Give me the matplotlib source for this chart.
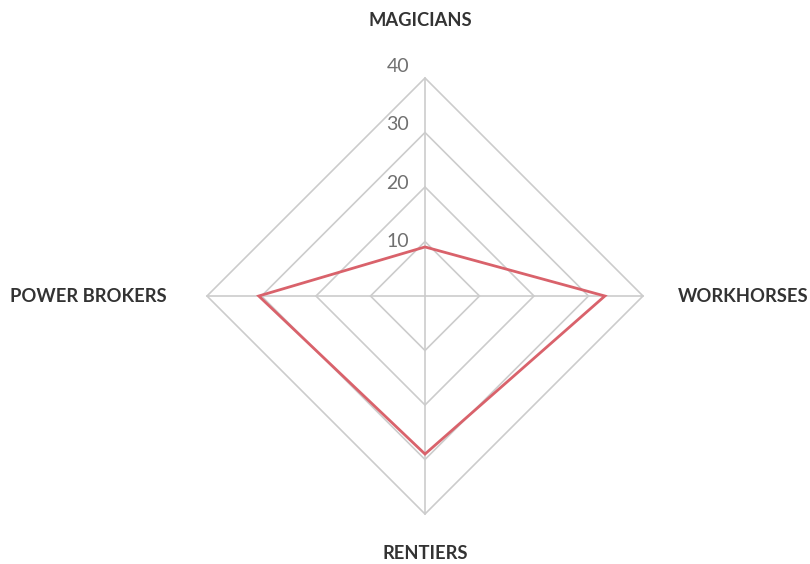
import numpy as np
import matplotlib.pyplot as plt

categories = ["MAGICIANS", "WORKHORSES", "RENTIERS", "POWER BROKERS"]
values = [9, 33, 29, 30.5]
rings = [10, 20, 30, 40]

plt.rcParams['font.family'] = ['Lato', 'DejaVu Sans']

fig = plt.figure(figsize=(8.1, 5.64), dpi=100)
ax = fig.add_axes([0, 0, 1, 1])
scale = 5.45  # px per unit
ax.set_xlim(-425 / scale, 385 / scale)
ax.set_ylim(-(564 - 296) / scale, 296 / scale)
ax.axis('off')

angles = np.arange(len(categories)) * 2 * np.pi / len(categories)
sx, sy = np.round(np.sin(angles), 12), np.round(np.cos(angles), 12)

grid_c = "#cccccc"
for r in rings:
    ax.fill(r * sx, r * sy, fill=False, edgecolor=grid_c, lw=1.2,
            joinstyle='miter', zorder=1)
for i in range(len(categories)):
    ax.plot([0, 40 * sx[i]], [0, 40 * sy[i]], color=grid_c, lw=1.2, zorder=1)

v = np.array(values)
ax.fill(v * sx, v * sy, fill=False, edgecolor="#d9626b", lw=2,
        joinstyle='miter', zorder=3)

for r in rings:
    ax.text(-2.9, r + (r - 10) * 0.07, str(r), ha='right', va='center',
            fontsize=14, color="#707070")

lab = dict(fontsize=13.2, fontweight='bold', color="#333333")
ax.text(-0.8, 50.5, categories[0], ha='center', va='center', **lab)
ax.text(46.4, 0, categories[1], ha='left', va='center', **lab)
ax.text(0, -47.3, categories[2], ha='center', va='center', **lab)
ax.text(-47.4, 0, categories[3], ha='right', va='center', **lab)

fig.savefig("out.png", dpi=100)
